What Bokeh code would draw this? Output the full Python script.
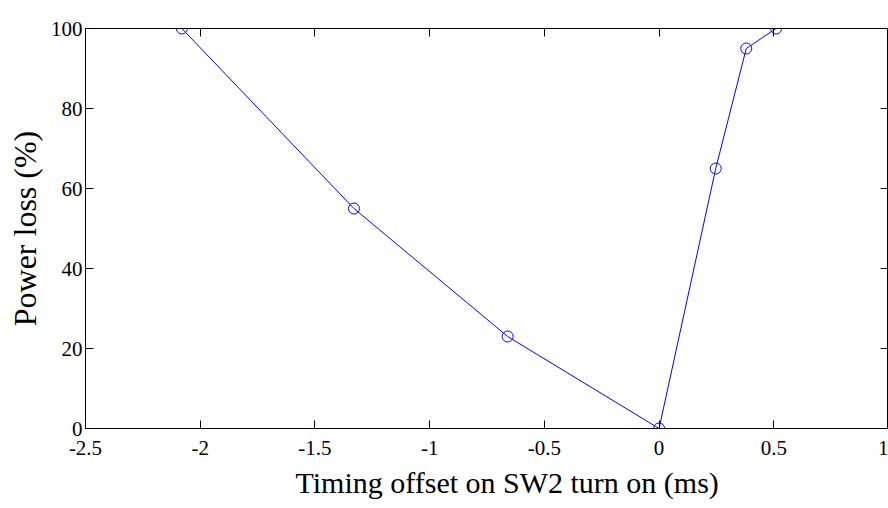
from bokeh.plotting import figure
from bokeh.models import LinearAxis, Title, Range1d, FixedTicker
from bokeh.embed import file_html
from bokeh.resources import INLINE

# data
offset_ms = [-2.08, -1.33, -0.66, 0.0, 0.247, 0.38, 0.51]
power_loss = [100, 55, 23, 0, 65, 95, 100]
x_ticks = [-2.5, -2, -1.5, -1, -0.5, 0, 0.5, 1]
x_tick_labels = ["-2.5", "-2", "-1.5", "-1", "-0.5", "0", "0.5", "1"]
y_ticks = [0, 20, 40, 60, 80, 100]
y_tick_labels = ["0", "20", "40", "60", "80", "100"]
x_label_text = "Timing offset on SW2 turn on (ms)"
y_label_text = "Power loss (%)"

FONT = "Liberation Serif"

p = figure(width=888, height=508, output_backend="svg", toolbar_location=None,
           x_range=Range1d(-2.5, 1.0), y_range=Range1d(0, 100),
           min_border_left=81, min_border_right=0, min_border_top=28, min_border_bottom=80,
           background_fill_color="white", border_fill_color="white")
p.grid.visible = False
p.outline_line_color = "black"
p.outline_line_width = 1

def style(ax, ticks, labels=None):
    ax.ticker = FixedTicker(ticks=ticks)
    ax.axis_line_color = "black"
    ax.axis_line_width = 1
    ax.major_tick_in = 8
    ax.major_tick_out = 0
    ax.major_tick_line_color = "black"
    ax.minor_tick_line_color = None
    ax.major_label_text_font = FONT
    ax.major_label_text_font_size = "21px"
    if labels is not None:
        ax.major_label_text_color = "black"
        ax.major_label_overrides = {t: s for t, s in zip(ticks, labels)}
    else:
        ax.major_label_text_color = None
        ax.major_label_standoff = 0

xa = p.xaxis[0]
style(xa, x_ticks, x_tick_labels)
xa.major_label_standoff = 12
ya = p.yaxis[0]
style(ya, y_ticks, y_tick_labels)
ya.major_label_standoff = 3

top = LinearAxis()
style(top, x_ticks)
p.add_layout(top, "above")
right = LinearAxis()
style(right, y_ticks)
p.add_layout(right, "right")

p.line(offset_ms, power_loss, line_color="#0000ff", line_width=1)
p.scatter(offset_ms, power_loss, marker="circle", size=11, fill_color=None,
          line_color="#0000ff", line_width=1)

p.add_layout(Title(text=x_label_text, align="left", offset=210, standoff=12,
                   text_font=FONT, text_font_size="30px", text_font_style="normal",
                   text_color="black"), "below")
p.add_layout(Title(text=y_label_text, align="center", offset=0, standoff=9,
                   text_font=FONT, text_font_size="32px", text_font_style="normal",
                   text_color="black"), "left")

open("out.html", "w").write(file_html(p, INLINE))
